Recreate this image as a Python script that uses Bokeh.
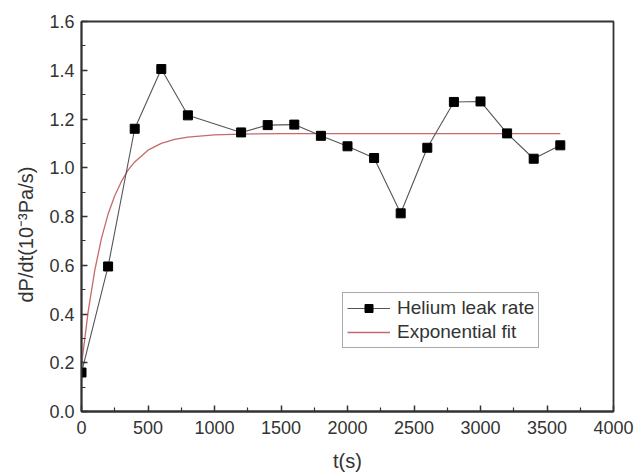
from bokeh.plotting import figure
from bokeh.models import Legend, LegendItem, NumeralTickFormatter, FixedTicker, Range1d, Title
from bokeh.embed import file_html
from bokeh.resources import INLINE

# Measured helium leak rate
t_data = [0, 200, 400, 600, 800, 1200, 1400, 1600, 1800, 2000, 2200, 2400, 2600, 2800, 3000, 3200, 3400, 3600]
rate_data = [0.16, 0.595, 1.16, 1.405, 1.215, 1.145, 1.175, 1.177, 1.131, 1.088, 1.040, 0.813, 1.082, 1.270, 1.272, 1.141, 1.037, 1.092]

# Exponential fit curve
t_fit = [0, 50, 100, 150, 200, 250, 300, 350, 400, 500, 600, 700, 800, 1000, 1200, 1500, 2000, 2500, 3000, 3600]
rate_fit = [0.19, 0.41, 0.58, 0.71, 0.81, 0.885, 0.944, 0.99, 1.024, 1.072, 1.10, 1.116, 1.126, 1.135, 1.138, 1.14, 1.14, 1.14, 1.14, 1.14]

x_ticks = [0, 500, 1000, 1500, 2000, 2500, 3000, 3500, 4000]
y_ticks = [0.0, 0.2, 0.4, 0.6, 0.8, 1.0, 1.2, 1.4, 1.6]

p = figure(width=635, height=474, output_backend="svg", toolbar_location=None,
           x_range=Range1d(0, 4000), y_range=Range1d(0, 1.6),
           min_border_left=81, min_border_right=22, min_border_top=21, min_border_bottom=62)
p.grid.visible = False
p.outline_line_color = "#333333"
p.outline_line_width = 1.8
p.background_fill_color = "white"
p.border_fill_color = "white"

fit = p.line(t_fit, rate_fit, line_color="#c46a6a", line_width=1.3)
dl = p.line(t_data, rate_data, line_color="#555555", line_width=1.1)
ds = p.scatter(t_data, rate_data, marker="square", size=9, fill_color="black", line_color="black")

font = "Liberation Sans"
for ax, ticks in ((p.xaxis, x_ticks), (p.yaxis, y_ticks)):
    ax.ticker = FixedTicker(ticks=ticks, minor_ticks=[(ticks[i] + ticks[i + 1]) / 2 for i in range(len(ticks) - 1)])
    ax.major_tick_in = 6
    ax.major_tick_out = 0
    ax.minor_tick_in = 4
    ax.minor_tick_out = 0
    ax.axis_line_color = "#333333"
    ax.axis_line_width = 1.8
    ax.major_tick_line_color = "#333333"
    ax.minor_tick_line_color = "#333333"
    ax.major_tick_line_width = 1.5
    ax.minor_tick_line_width = 1.2
    ax.major_label_text_font = font
    ax.major_label_text_font_size = "18px"
    ax.major_label_text_color = "#333333"
    ax.axis_label_text_font = font
    ax.axis_label_text_font_style = "normal"
    ax.axis_label_text_color = "#333333"

p.yaxis.formatter = NumeralTickFormatter(format="0.0")
p.yaxis.major_label_standoff = 7
p.xaxis.major_label_standoff = 9
p.xaxis.axis_label = "t(s)"
p.xaxis.axis_label_text_font_size = "20px"
p.xaxis.axis_label_standoff = 13

ytitle = Title(text="dP/dt(10\u207b\u00b3Pa/s)", align="left", offset=109, standoff=19,
               text_font=font, text_font_size="20px", text_font_style="normal",
               text_color="#333333")
p.add_layout(ytitle, "left")

legend = Legend(items=[
    LegendItem(label="Helium leak rate", renderers=[dl, ds]),
    LegendItem(label="Exponential fit", renderers=[fit]),
], location=(261, 63))
legend.label_text_font = font
legend.label_text_font_size = "19px"
legend.label_text_color = "#333333"
legend.border_line_color = "#555555"
legend.border_line_width = 1.2
legend.glyph_width = 43
legend.label_standoff = 7
legend.padding = 4
legend.spacing = 2
legend.label_height = 20
legend.glyph_height = 20
legend.margin = 0
p.add_layout(legend, "center")

open("out.html", "w").write(file_html(p, INLINE))
